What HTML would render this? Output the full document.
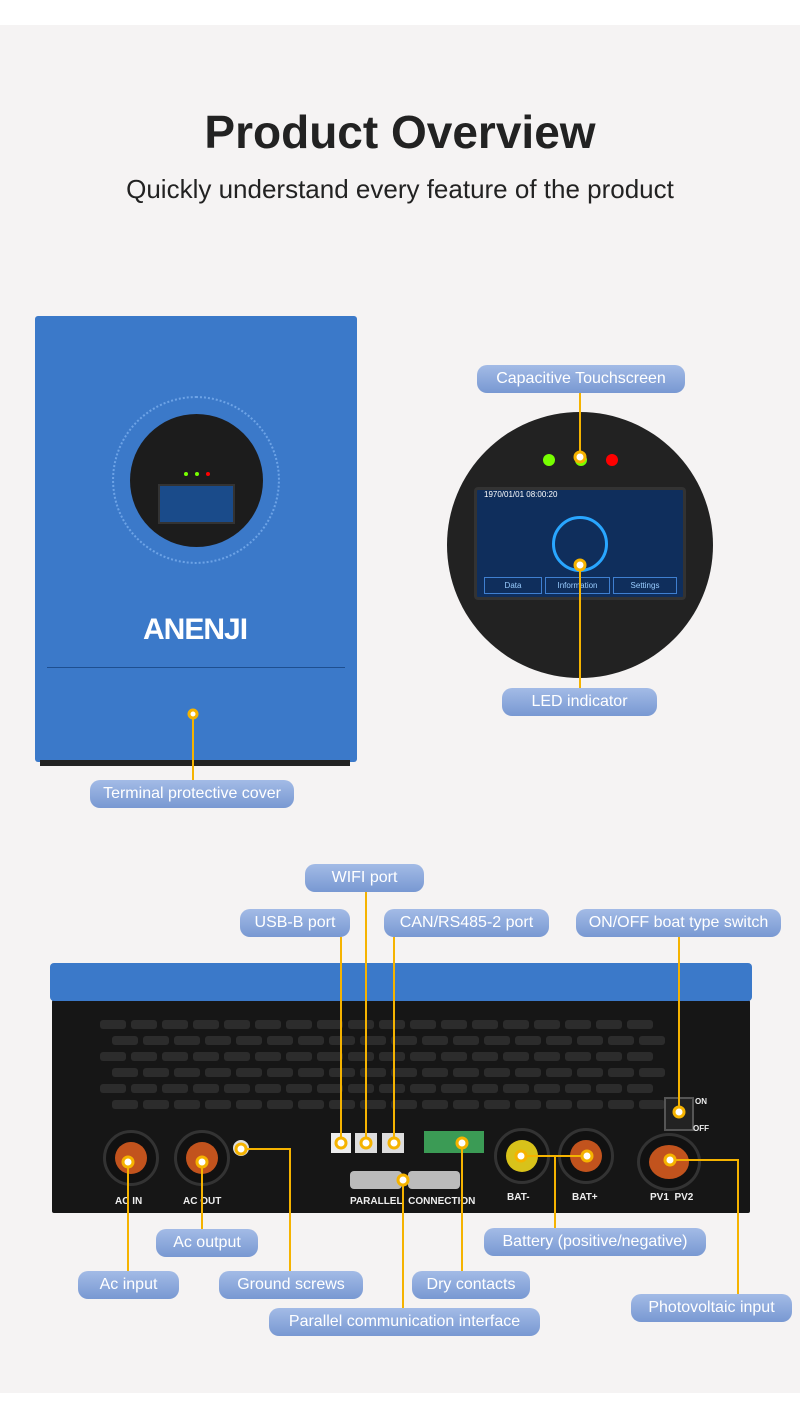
<!DOCTYPE html>
<html><head><meta charset="utf-8"><style>
*{margin:0;padding:0;box-sizing:border-box}
body{width:800px;height:1420px;background:#fff;position:relative;overflow:hidden;font-family:"Liberation Sans",sans-serif}
.bg{position:absolute;left:0;top:25px;width:800px;height:1368px;background:#f5f3f3}
.a{position:absolute}
.lbl{position:absolute;height:28px;border-radius:10px;background:linear-gradient(#a3bbe6,#7898d2);color:#fff;font-size:16px;line-height:28px;text-align:center;white-space:nowrap}
h1{position:absolute;left:0;width:800px;top:105px;text-align:center;font-size:46px;font-weight:bold;color:#222}
.sub{position:absolute;left:0;width:800px;top:174px;text-align:center;font-size:26px;color:#222}
.vent{position:absolute;height:9px;border-radius:3px;background:#2c2c2c}
.port{position:absolute;border-radius:50%;background:#111;border:3px solid #333}
.port i{position:absolute;left:9px;top:9px;right:9px;bottom:9px;border-radius:50%;background:#c2531d}
.sm{position:absolute;color:#eee;font-size:10px;font-weight:bold}
</style></head><body>
<div class="bg"></div>
<h1>Product Overview</h1>
<div class="sub">Quickly understand every feature of the product</div>

<div class="a" style="left:35px;top:316px;width:322px;height:446px;background:#3b79c9;border-radius:3px"></div>
<div class="a" style="left:47px;top:667px;width:298px;height:1px;background:#1e4f90"></div>
<div class="a" style="left:112px;top:396px;width:168px;height:168px;border-radius:50%;border:2px dotted #6da3e6"></div>
<div class="a" style="left:130px;top:414px;width:133px;height:133px;border-radius:50%;background:#1c1c1c"></div>
<div class="a" style="left:158px;top:484px;width:77px;height:40px;background:#1a4b8a;border:2px solid #333"></div>
<div class="a" style="left:184px;top:472px;width:4px;height:4px;border-radius:50%;background:#7f0"></div>
<div class="a" style="left:195px;top:472px;width:4px;height:4px;border-radius:50%;background:#7f0"></div>
<div class="a" style="left:206px;top:472px;width:4px;height:4px;border-radius:50%;background:#f00"></div>
<div class="a" style="left:143px;top:613px;font-size:30px;font-weight:bold;color:#fff;letter-spacing:-1px">ANENJI</div>
<div class="a" style="left:40px;top:760px;width:310px;height:6px;background:#222"></div>

<div class="a" style="left:447px;top:412px;width:266px;height:266px;border-radius:50%;background:#222"></div>
<div class="a" style="left:543px;top:454px;width:12px;height:12px;border-radius:50%;background:#7f0"></div>
<div class="a" style="left:575px;top:454px;width:12px;height:12px;border-radius:50%;background:#7f0"></div>
<div class="a" style="left:606px;top:454px;width:12px;height:12px;border-radius:50%;background:#f00"></div>
<div class="a" style="left:474px;top:487px;width:212px;height:113px;background:#0f2e5c;border:3px solid #333;border-radius:4px"></div>
<div class="a" style="left:484px;top:490px;font-size:8px;color:#fff">1970/01/01 08:00:20</div>
<div class="a" style="left:552px;top:516px;width:56px;height:56px;border-radius:50%;border:3px solid #29a6ff"></div>
<div class="a" style="left:484px;top:577px;width:58px;height:17px;border:1px solid #3f7fd0;color:#9cf;font-size:8px;text-align:center;line-height:15px">Data</div>
<div class="a" style="left:545px;top:577px;width:65px;height:17px;border:1px solid #3f7fd0;color:#9cf;font-size:8px;text-align:center;line-height:15px">Information</div>
<div class="a" style="left:613px;top:577px;width:64px;height:17px;border:1px solid #3f7fd0;color:#9cf;font-size:8px;text-align:center;line-height:15px">Settings</div>

<div class="a" style="left:52px;top:1000px;width:698px;height:213px;background:#161616;border-radius:2px"></div>
<div class="a" style="left:50px;top:963px;width:702px;height:38px;background:#3b79c9;border-radius:4px"></div>
<div id="vents"></div>
<div class="port" style="left:103px;top:1130px;width:56px;height:56px"><i></i></div>
<div class="port" style="left:174px;top:1130px;width:56px;height:56px"><i></i></div>
<div class="a" style="left:233px;top:1140px;width:16px;height:16px;border-radius:50%;background:#ddd"></div>
<div class="port" style="left:494px;top:1128px;width:56px;height:56px"><i style="background:#d8c21a"></i></div>
<div class="port" style="left:558px;top:1128px;width:56px;height:56px"><i></i></div>
<div class="port" style="left:637px;top:1133px;width:64px;height:58px"><i></i></div>
<div class="a" style="left:331px;top:1133px;width:20px;height:20px;background:#eee"></div>
<div class="a" style="left:355px;top:1133px;width:22px;height:20px;background:#ddd"></div>
<div class="a" style="left:382px;top:1133px;width:22px;height:20px;background:#ddd"></div>
<div class="a" style="left:424px;top:1131px;width:60px;height:22px;background:#3b9b55"></div>
<div class="a" style="left:350px;top:1171px;width:52px;height:18px;background:#bbb;border-radius:4px"></div>
<div class="a" style="left:408px;top:1171px;width:52px;height:18px;background:#bbb;border-radius:4px"></div>
<div class="a" style="left:664px;top:1097px;width:30px;height:34px;background:#222;border:2px solid #555"></div>
<div class="sm" style="left:115px;top:1196px">AC IN</div>
<div class="sm" style="left:183px;top:1196px">AC OUT</div>
<div class="sm" style="left:350px;top:1196px">PARALLEL&nbsp;&nbsp;CONNECTION</div>
<div class="sm" style="left:507px;top:1192px">BAT-</div>
<div class="sm" style="left:572px;top:1192px">BAT+</div>
<div class="sm" style="left:650px;top:1192px">PV1&nbsp;&nbsp;PV2</div>
<div class="sm" style="left:695px;top:1097px;font-size:8px">ON</div>
<div class="sm" style="left:693px;top:1124px;font-size:8px">OFF</div>

<svg class="a" style="left:0;top:0" width="800" height="1420">
<g stroke="#f5b300" stroke-width="2" fill="none">
<path d="M580 393V457M580 565V688M193 714V780M341 937V1143M366 892V1143M394 937V1143M462 1143V1271M679 937V1112M521 1156H587M555 1156V1228M670 1160H738V1294M128 1162V1271M202 1162V1229M241 1149H290V1271M403 1180V1308"/>
</g>
<g fill="#fff" stroke="#f5b300" stroke-width="3">
<circle cx="580" cy="457" r="5"/><circle cx="580" cy="565" r="5"/><circle cx="193" cy="714" r="4"/>
<circle cx="341" cy="1143" r="5"/><circle cx="366" cy="1143" r="5"/><circle cx="394" cy="1143" r="5"/>
<circle cx="462" cy="1143" r="5"/><circle cx="679" cy="1112" r="5"/><circle cx="521" cy="1156" r="5"/>
<circle cx="587" cy="1156" r="5"/><circle cx="670" cy="1160" r="5"/><circle cx="128" cy="1162" r="5"/>
<circle cx="202" cy="1162" r="5"/><circle cx="241" cy="1149" r="5"/><circle cx="403" cy="1180" r="5"/>
</g>
</svg>

<div class="lbl" style="left:477px;top:365px;width:208px">Capacitive Touchscreen</div>
<div class="lbl" style="left:502px;top:688px;width:155px">LED indicator</div>
<div class="lbl" style="left:90px;top:780px;width:204px">Terminal protective cover</div>
<div class="lbl" style="left:305px;top:864px;width:119px">WIFI port</div>
<div class="lbl" style="left:240px;top:909px;width:110px">USB-B port</div>
<div class="lbl" style="left:384px;top:909px;width:165px">CAN/RS485-2 port</div>
<div class="lbl" style="left:576px;top:909px;width:205px">ON/OFF boat type switch</div>
<div class="lbl" style="left:156px;top:1229px;width:102px">Ac output</div>
<div class="lbl" style="left:484px;top:1228px;width:222px">Battery (positive/negative)</div>
<div class="lbl" style="left:78px;top:1271px;width:101px">Ac input</div>
<div class="lbl" style="left:219px;top:1271px;width:144px">Ground screws</div>
<div class="lbl" style="left:412px;top:1271px;width:118px">Dry contacts</div>
<div class="lbl" style="left:631px;top:1294px;width:161px">Photovoltaic input</div>
<div class="lbl" style="left:269px;top:1308px;width:271px">Parallel communication interface</div>
<script>
var v=document.getElementById('vents'),h='';
for(var r=0;r<6;r++){for(var c=0;c<18;c++){var x=100+c*31+(r%2?12:0);if(r>=4&&x>650)continue;h+='<div class="vent" style="left:'+x+'px;top:'+(1020+r*16)+'px;width:26px"></div>';}}
v.innerHTML=h;
</script>
</body></html>
